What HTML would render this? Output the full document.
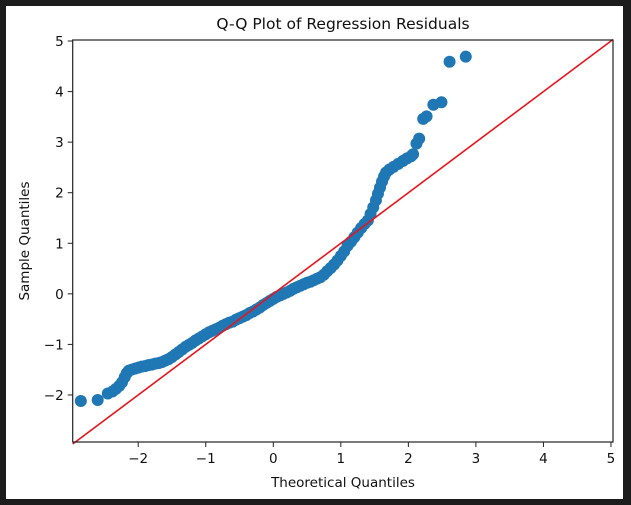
<!DOCTYPE html>
<html><head><meta charset="utf-8"><style>
html,body{margin:0;padding:0;background:#1c1c1c;}
svg{display:block;font-family:"DejaVu Sans","Liberation Sans",sans-serif;}
</style></head><body>
<svg id="chart" width="631" height="505" viewBox="0 0 631 505">
<rect x="6" y="6" width="617" height="493" fill="#ffffff"/>
<g id="plot"></g>
</svg>
<script>
const theoretical = [-2.85,-2.6,-2.45,-2.38,-2.33,-2.28,-2.24,-2.2,-2.17,-2.14,-2.1,-2.05,-2.0,-1.95,-1.9,-1.85,-1.8,-1.75,-1.7,-1.65,-1.6,-1.55,-1.5,-1.45,-1.4,-1.35,-1.3,-1.25,-1.2,-1.15,-1.1,-1.05,-1.0,-0.95,-0.9,-0.85,-0.8,-0.75,-0.7,-0.65,-0.6,-0.55,-0.5,-0.45,-0.4,-0.35,-0.3,-0.25,-0.2,-0.15,-0.1,-0.05,0,0.05,0.1,0.15,0.2,0.25,0.3,0.35,0.4,0.45,0.5,0.55,0.6,0.65,0.7,0.75,0.8,0.85,0.9,0.95,1.0,1.05,1.1,1.15,1.2,1.25,1.3,1.35,1.4,1.44,1.48,1.52,1.55,1.58,1.61,1.64,1.67,1.72,1.78,1.85,1.92,1.98,2.04,2.07,2.12,2.16,2.22,2.27,2.37,2.49,2.61,2.85];
const sample = [-2.12,-2.1,-1.97,-1.93,-1.88,-1.82,-1.75,-1.65,-1.57,-1.52,-1.5,-1.48,-1.46,-1.44,-1.43,-1.41,-1.4,-1.38,-1.37,-1.35,-1.32,-1.29,-1.25,-1.2,-1.15,-1.1,-1.05,-1.01,-0.97,-0.92,-0.88,-0.84,-0.8,-0.76,-0.73,-0.7,-0.67,-0.63,-0.6,-0.57,-0.55,-0.51,-0.48,-0.45,-0.42,-0.38,-0.35,-0.31,-0.27,-0.22,-0.18,-0.14,-0.1,-0.06,-0.03,0.0,0.03,0.06,0.1,0.13,0.16,0.19,0.22,0.24,0.27,0.3,0.33,0.38,0.45,0.51,0.58,0.66,0.75,0.84,0.95,1.03,1.12,1.21,1.3,1.38,1.45,1.58,1.71,1.85,1.98,2.1,2.22,2.32,2.4,2.46,2.51,2.57,2.63,2.68,2.72,2.76,2.97,3.07,3.46,3.51,3.74,3.79,4.59,4.69];
const xTicks = [-2,-1,0,1,2,3,4,5];
const yTicks = [-2,-1,0,1,2,3,4,5];
const xMin=-2.97, xMax=5.03, yMin=-2.93, yMax=5.02;
const L=72.7, R=613, T=40, B=442;
const sx = v => L + (v - xMin) / (xMax - xMin) * (R - L);
const sy = v => B - (v - yMin) / (yMax - yMin) * (B - T);
const NS="http://www.w3.org/2000/svg";
const g=document.getElementById('plot');
function mk(tag, attrs, parent){const e=document.createElementNS(NS,tag);for(const k in attrs)e.setAttribute(k,attrs[k]);(parent||g).appendChild(e);return e;}
const pts=mk('g',{});


for(let i=0;i<theoretical.length;i++){
  const c=mk('circle',{cx:sx(theoretical[i]),cy:sy(sample[i]),r:6,fill:'#1f77b4'},pts);
  
  
}
const ln=mk('line',{x1:sx(xMin),y1:sy(xMin),x2:sx(xMax),y2:sy(xMax),stroke:'#e8141c','stroke-width':1.6});


const frame=mk('rect',{x:L,y:T,width:R-L,height:B-T,fill:'none',stroke:'#222','stroke-width':1.2});


for(const t of xTicks){
  const x=sx(t);
  const tk=mk('line',{x1:x,y1:B,x2:x,y2:B+5,stroke:'#222','stroke-width':1});
  
  
  const tx=mk('text',{x:x,y:B+21,'text-anchor':'middle','font-size':13.5,fill:'#111'});
  tx.textContent=t<0?'\u2212'+Math.abs(t):String(t);
  
  
}
for(const t of yTicks){
  const y=sy(t);
  const tk=mk('line',{x1:L-5,y1:y,x2:L,y2:y,stroke:'#222','stroke-width':1});
  
  
  const tx=mk('text',{x:L-9,y:y+5,'text-anchor':'end','font-size':13.5,fill:'#111'});
  tx.textContent=t<0?'\u2212'+Math.abs(t):String(t);
  
  
}
</script>
<script>
(function(){
const NS="http://www.w3.org/2000/svg";const s=document.getElementById('chart');
function t(x,y,txt,size,rot){const e=document.createElementNS(NS,'text');e.setAttribute('x',x);e.setAttribute('y',y);e.setAttribute('text-anchor','middle');e.setAttribute('font-size',size);e.setAttribute('fill','#111');if(rot)e.setAttribute('transform',rot);e.textContent=txt;s.appendChild(e);return e;}
const a=t(343,29,'Q-Q Plot of Regression Residuals',15.5);


const b=t(343,487,'Theoretical Quantiles',13.5);


const c=t(0,0,'Sample Quantiles',13.5,'translate(29,241) rotate(-90)');


})();
</script>
</body></html>
